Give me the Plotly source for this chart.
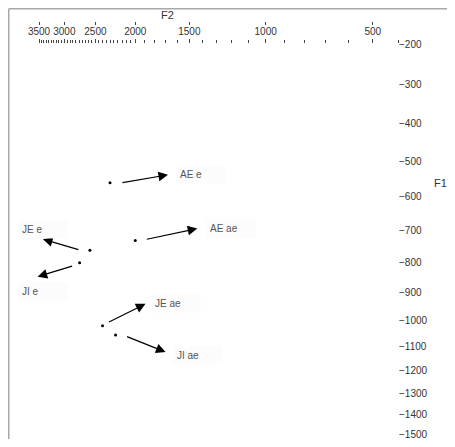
import math
import plotly.graph_objects as go

# ---- data (Hz) ----
labels = ["AE e", "AE ae", "JE e", "JI e", "JE ae", "JI ae"]
f2_hz = [2300, 2000, 2580, 2740, 2400, 2230]
f1_hz = [560, 730, 760, 800, 1020, 1055]

f2_tick_vals = [3500, 3000, 2500, 2000, 1500, 1000, 500]
f1_tick_vals = [200, 300, 400, 500, 600, 700, 800, 900, 1000, 1100, 1200, 1300, 1400, 1500]
f2_minor_vals = list(range(2000, 3501, 50)) + list(range(400, 2000, 100))

# ---- label / arrow placement (pixel offsets from each point) ----
# (label_dx, label_dy, head_dx, head_dy, tail_dx, tail_dy); dy positive = down
placement = [
    (68, -8, 58, -8, 11, 0),
    (73, -12, 62, -12, 10, -1),
    (-70, -21, -47, -11, -10, 0),
    (-60, 29, -42, 14, -6, 3),
    (50, -22, 43, -22, 5, -3),
    (59, 20, 50, 17, 10, 1),
]


def bark(f):
    return 13 * math.atan(0.00076 * f) + 3.5 * math.atan((f / 7500.0) ** 2)


FONT = "Liberation Sans, Arial, sans-serif"
OFF = 8                      # page body margin of the html page
W, H = 455 - 2 * OFF, 447 - 2 * OFF
ML = 39 - OFF
MR = W - (398 - OFF)
MT = 12
MB = H - (434 - OFF)
plot_w = W - ML - MR
plot_h = H - MT - MB
y_top_px = 44 - OFF
ydom_top = (H - MB - y_top_px) / plot_h


def px_x(px):
    return (px - OFF - ML) / plot_w


def px_y(py):
    return (H - MB - (py - OFF)) / plot_h


xs = [bark(v) for v in f2_hz]
ys = [bark(v) for v in f1_hz]
xrange_ = [bark(3500), bark(400)]

fig = go.Figure()
fig.add_trace(go.Scatter(
    x=xs, y=ys, mode="markers", text=labels,
    marker=dict(size=3, color="black"),
    hoverinfo="text", showlegend=False,
))
fig.add_trace(go.Scatter(
    x=xs, y=ys, mode="markers", xaxis="x2",
    marker=dict(size=1, opacity=0), hoverinfo="skip", showlegend=False,
))

annotations = []
for i, lab in enumerate(labels):
    ldx, ldy, hdx, hdy, tdx, tdy = placement[i]
    annotations.append(dict(
        x=xs[i], y=ys[i], xref="x", yref="y", text="",
        showarrow=True, arrowhead=2, arrowsize=1.6, arrowwidth=1.2,
        arrowcolor="black", standoff=0,
        xshift=hdx, yshift=-hdy, ax=tdx - hdx, ay=tdy - hdy,
    ))
    annotations.append(dict(
        x=xs[i], y=ys[i], xref="x", yref="y", text=lab,
        showarrow=False, xanchor="left", yanchor="middle", align="left",
        xshift=ldx - 2, yshift=-ldy,
        font=dict(family=FONT, size=10, color="#555"),
        bgcolor="#fcfcfc", borderpad=3, width=42,
    ))

annotations.append(dict(
    x=px_x(167), y=px_y(15.5), xref="paper", yref="paper",
    text="F2", showarrow=False, xanchor="center", yanchor="middle",
    font=dict(family=FONT, size=11, color="#333"),
))
annotations.append(dict(
    x=px_x(440), y=px_y(183), xref="paper", yref="paper",
    text="F1", showarrow=False, xanchor="center", yanchor="middle",
    font=dict(family=FONT, size=11, color="#333"),
))

frame_x = (0.75 - ML) / plot_w
frame_y = (H - MB - 0.75) / plot_h
shapes = [
    dict(type="line", xref="paper", yref="paper", x0=frame_x, x1=frame_x,
         y0=-0.2, y1=frame_y, line=dict(color="#a8a8a8", width=1.5)),
    dict(type="line", xref="paper", yref="paper", x0=frame_x, x1=1.3,
         y0=frame_y, y1=frame_y, line=dict(color="#a8a8a8", width=1.5)),
]

fig.update_layout(
    width=W, height=H, autosize=False,
    margin=dict(l=ML, r=MR, t=MT, b=MB, pad=0, autoexpand=False),
    paper_bgcolor="white", plot_bgcolor="white",
    showlegend=False,
    annotations=annotations,
    shapes=shapes,
    xaxis=dict(
        side="top", anchor="y", range=xrange_, automargin=False,
        tickmode="array", tickvals=[bark(v) for v in f2_tick_vals],
        ticktext=[str(v) for v in f2_tick_vals], tickangle=0,
        ticks="outside", ticklen=4, tickwidth=1, tickcolor="#444",
        tickfont=dict(family=FONT, size=10, color="#333"),
        ticklabeloverflow="allow",
        showgrid=False, zeroline=False, showline=False,
        minor=dict(tickmode="array", tickvals=[bark(v) for v in f2_minor_vals],
                   ticks="outside", ticklen=3, tickwidth=1, tickcolor="#444",
                   showgrid=False),
    ),
    xaxis2=dict(
        overlaying="x", side="top", anchor="free", automargin=False,
        position=px_y(25), range=xrange_,
        tickmode="array", tickvals=[bark(v) for v in f2_tick_vals],
        ticks="outside", ticklen=3, tickwidth=1, tickcolor="#444",
        showticklabels=False, showgrid=False, zeroline=False, showline=False,
    ),
    yaxis=dict(
        side="right", anchor="x", domain=[0, ydom_top], automargin=False,
        range=[bark(1500), bark(200)],
        tickmode="array", tickvals=[bark(v) for v in f1_tick_vals],
        ticktext=["\u2212" + str(v) for v in f1_tick_vals],
        ticks="", tickfont=dict(family=FONT, size=10, color="#333"),
        ticklabeloverflow="allow",
        showgrid=False, zeroline=False, showline=False,
    ),
)

fig.write_html("out.html")
